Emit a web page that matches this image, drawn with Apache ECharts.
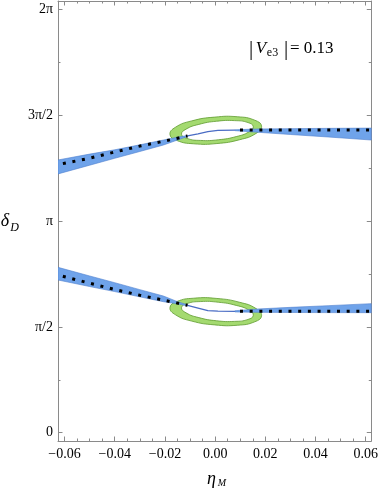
<!DOCTYPE html>
<html>
<head>
<meta charset="utf-8">
<script src="https://cdn.jsdelivr.net/npm/echarts@6/dist/echarts.min.js"></script>
<style>
  html, body { margin: 0; padding: 0; background: #fff; }
  #chart { width: 381px; height: 491px; }
</style>
</head>
<body>
<div id="chart"></div>
<script>
// axis ticks
const xTicks = [-0.06, -0.04, -0.02, 0, 0.02, 0.04, 0.06]
const xMinorTicks = [-0.055, -0.05, -0.045, -0.035, -0.03, -0.025, -0.015, -0.01, -0.005,
  0.005, 0.01, 0.015, 0.025, 0.03, 0.035, 0.045, 0.05, 0.055]
const yTicks = [0, Math.PI / 2, Math.PI, 3 * Math.PI / 2, 2 * Math.PI]
const yTickLabels = ['0', 'π/2', 'π', '3π/2', '2π']
const yMinorTicks = [Math.PI / 4, 3 * Math.PI / 4, 5 * Math.PI / 4, 7 * Math.PI / 4]

// upper branch (blue band edges, dotted central curve, thin line inside the ring)
const upLeftTop = [[-0.0626, 4.047], [-0.05, 4.134], [-0.04, 4.198], [-0.03, 4.272], [-0.0206, 4.343], [-0.015, 4.385], [-0.011, 4.41]]
const upLeftBot = [[-0.0626, 3.84], [-0.05, 3.969], [-0.04, 4.072], [-0.03, 4.173], [-0.0206, 4.269], [-0.015, 4.343], [-0.011, 4.396]]
const upRightTop = [[0.0079, 4.495], [0.017, 4.507], [0.03, 4.512], [0.045, 4.516], [0.0622, 4.52]]
const upRightBot = [[0.0079, 4.482], [0.017, 4.458], [0.03, 4.425], [0.045, 4.388], [0.0622, 4.343]]
const upDotsLeft = [[-0.0626, 3.978], [-0.06, 3.998], [-0.05, 4.073], [-0.04, 4.165], [-0.03, 4.253], [-0.02, 4.329], [-0.011, 4.403]]
const upDotsRight = [[0.0079, 4.492], [0.0622, 4.492]]
const upCore = [[-0.011, 4.403], [-0.0068, 4.433], [-0.0029, 4.467], [0.0011, 4.485], [0.0079, 4.49]]

// lower branch
const loLeftTop = [[-0.0626, 2.454], [-0.05, 2.326], [-0.04, 2.226], [-0.03, 2.123], [-0.0206, 2.028], [-0.015, 1.945], [-0.011, 1.898]]
const loLeftBot = [[-0.0626, 2.266], [-0.05, 2.169], [-0.04, 2.094], [-0.03, 2.016], [-0.0206, 1.944], [-0.015, 1.912], [-0.011, 1.882]]
const loRightTop = [[0.0079, 1.81], [0.017, 1.836], [0.03, 1.86], [0.045, 1.885], [0.0622, 1.915]]
const loRightBot = [[0.0079, 1.792], [0.017, 1.786], [0.03, 1.784], [0.045, 1.782], [0.0622, 1.781]]
const loDotsLeft = [[-0.0626, 2.34], [-0.06, 2.315], [-0.05, 2.218], [-0.04, 2.125], [-0.03, 2.04], [-0.02, 1.963], [-0.011, 1.89]]
const loDotsRight = [[0.0079, 1.801], [0.0622, 1.801]]
const loCore = [[-0.011, 1.89], [-0.0068, 1.85], [-0.0029, 1.813], [0.0011, 1.803], [0.0079, 1.801]]

// green rings, outer and inner outlines
const upRingOuter = [[0.0185, 4.548], [0.0163, 4.441], [0.0098, 4.348], [0.0007, 4.291], [-0.0085, 4.287], [-0.0153, 4.337],
  [-0.018, 4.426], [-0.0158, 4.533], [-0.0093, 4.627], [-0.0002, 4.683], [0.009, 4.688], [0.0158, 4.637]]
const upRingInner = [[0.0152, 4.541], [0.0135, 4.465], [0.0084, 4.394], [0.0013, 4.347], [-0.0059, 4.337], [-0.0112, 4.367],
  [-0.0134, 4.428], [-0.0116, 4.504], [-0.0065, 4.575], [0.0006, 4.622], [0.0078, 4.631], [0.0131, 4.602]]
const loRingOuter = [[0.0185, 1.735], [0.0163, 1.842], [0.0098, 1.935], [0.0007, 1.992], [-0.0085, 1.996], [-0.0153, 1.946],
  [-0.018, 1.857], [-0.0158, 1.75], [-0.0093, 1.656], [-0.0002, 1.6], [0.009, 1.595], [0.0158, 1.646]]
const loRingInner = [[0.0152, 1.742], [0.0135, 1.818], [0.0084, 1.889], [0.0013, 1.936], [-0.0059, 1.946], [-0.0112, 1.916],
  [-0.0134, 1.855], [-0.0116, 1.779], [-0.0065, 1.708], [0.0006, 1.661], [0.0078, 1.652], [0.0131, 1.681]]

const serif = '"Liberation Serif", "DejaVu Serif", serif'
const frameColor = '#8a8a8a'
const bandFill = '#6fa3ea'
const bandEdge = '#4f7fcf'
const ringFill = '#a4da70'
const ringEdge = '#5e9a2f'

function polySeries (points, fill, stroke, lw, smooth) {
  return {
    type: 'custom',
    coordinateSystem: 'cartesian2d',
    xAxisIndex: 0,
    yAxisIndex: 0,
    silent: true,
    clip: true,
    data: [[0, 0]],
    renderItem: function (params, api) {
      return {
        type: 'polygon',
        shape: { points: points.map(p => api.coord(p)), smooth: smooth || 0 },
        style: { fill: fill, stroke: stroke, lineWidth: lw }
      }
    }
  }
}

function band (top, bot) {
  return polySeries(top.concat(bot.slice().reverse()), bandFill, bandEdge, 0.6, 0)
}

function dots (data) {
  return {
    type: 'line',
    data: data,
    symbol: 'none',
    silent: true,
    z: 5,
    lineStyle: { color: '#000', width: 3, type: [3, 6.7], cap: 'butt', dashOffset: 4.7 }
  }
}

function core (data) {
  return {
    type: 'line',
    data: data,
    symbol: 'none',
    silent: true,
    z: 4,
    lineStyle: { color: '#4a6cc4', width: 1.3 }
  }
}

function xAx (pos, major) {
  return {
    type: 'value',
    position: pos,
    min: -0.0626,
    max: 0.0622,
    splitLine: { show: false },
    axisLine: { show: major, onZero: false, lineStyle: { color: frameColor, width: 1 } },
    axisTick: {
      show: true, inside: true, length: major ? 4.5 : 2.5,
      customValues: major ? xTicks : xMinorTicks,
      lineStyle: { color: frameColor, width: 1 }
    },
    axisLabel: {
      show: major && pos === 'bottom',
      customValues: xTicks,
      margin: 6,
      color: '#000',
      fontFamily: serif,
      fontSize: 14,
      formatter: v => (v < 0 ? '\u2212' : '') + Math.abs(v).toFixed(2)
    }
  }
}

function yAx (pos, major) {
  return {
    type: 'value',
    position: pos,
    min: -0.123,
    max: 6.406,
    splitLine: { show: false },
    axisLine: { show: major, onZero: false, lineStyle: { color: frameColor, width: 1 } },
    axisTick: {
      show: true, inside: true, length: major ? 4.5 : 2.5,
      customValues: major ? yTicks : yMinorTicks,
      lineStyle: { color: frameColor, width: 1 }
    },
    axisLabel: {
      show: major && pos === 'left',
      customValues: yTicks,
      margin: 5,
      color: '#000',
      fontFamily: serif,
      fontSize: 14,
      formatter: v => yTickLabels[Math.round(v / (Math.PI / 2))]
    }
  }
}

let myChart = echarts.init(document.getElementById('chart'))
myChart.setOption({
  animation: false,
  grid: { left: 58, top: 1, width: 317, height: 440 },
  xAxis: [xAx('bottom', true), xAx('bottom', false), xAx('top', true), xAx('top', false)],
  yAxis: [yAx('left', true), yAx('left', false), yAx('right', true), yAx('right', false)],
  series: [
    // rings first, bands and curves drawn over them
    polySeries(upRingOuter, ringFill, ringEdge, 0.8, 0.5),
    polySeries(upRingInner, '#fff', ringEdge, 0.8, 0.5),
    polySeries(loRingOuter, ringFill, ringEdge, 0.8, 0.5),
    polySeries(loRingInner, '#fff', ringEdge, 0.8, 0.5),
    band(upLeftTop, upLeftBot),
    band(upRightTop, upRightBot),
    band(loLeftTop, loLeftBot),
    band(loRightTop, loRightBot),
    core(upCore),
    core(loCore),
    dots(upDotsLeft),
    dots(upDotsRight),
    dots(loDotsLeft),
    dots(loDotsRight)
  ],
  graphic: [
    { type: 'text', x: 5, y: 221, style: { text: 'δ', font: 'italic 18px ' + serif, fill: '#000', align: 'center', verticalAlign: 'middle', textAlign: 'center', textVerticalAlign: 'middle' } },
    { type: 'text', x: 14.5, y: 227.5, style: { text: 'D', font: 'italic 12px ' + serif, fill: '#000', align: 'center', verticalAlign: 'middle', textAlign: 'center', textVerticalAlign: 'middle' } },
    { type: 'text', x: 211.5, y: 479, style: { text: 'η', font: 'italic 18px ' + serif, fill: '#000', align: 'center', verticalAlign: 'middle', textAlign: 'center', textVerticalAlign: 'middle' } },
    { type: 'text', x: 222, y: 483.5, style: { text: 'M', font: 'italic 10px ' + serif, fill: '#000', align: 'center', verticalAlign: 'middle', textAlign: 'center', textVerticalAlign: 'middle' } },
    { type: 'text', x: 251, y: 49, style: { text: '|', font: '21px ' + serif, fill: '#000', align: 'center', verticalAlign: 'middle', textAlign: 'center', textVerticalAlign: 'middle' } },
    { type: 'text', x: 261, y: 48.5, style: { text: 'V', font: 'italic 17px ' + serif, fill: '#000', align: 'center', verticalAlign: 'middle', textAlign: 'center', textVerticalAlign: 'middle' } },
    { type: 'text', x: 272.5, y: 53, style: { text: 'e3', font: '12px ' + serif, fill: '#000', align: 'center', verticalAlign: 'middle', textAlign: 'center', textVerticalAlign: 'middle' } },
    { type: 'text', x: 286, y: 49, style: { text: '|', font: '21px ' + serif, fill: '#000', align: 'center', verticalAlign: 'middle', textAlign: 'center', textVerticalAlign: 'middle' } },
    { type: 'text', x: 290, y: 48.5, style: { text: '= 0.13', font: '17px ' + serif, fill: '#000', align: 'left', verticalAlign: 'middle', textAlign: 'left', textVerticalAlign: 'middle' } }
  ]
})
</script>
</body>
</html>
